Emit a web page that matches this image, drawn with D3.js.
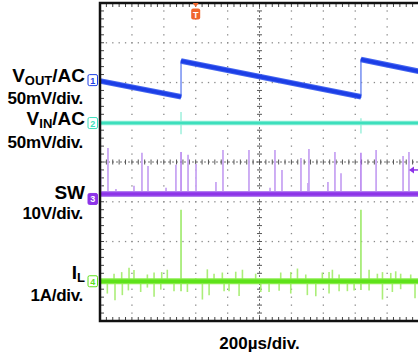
<!DOCTYPE html>
<html>
<head>
<meta charset="utf-8">
<script src="https://cdn.jsdelivr.net/npm/d3@7"></script>
<style>
  html, body { margin: 0; padding: 0; background: #fff; }
  svg { display: block; }
  text { font-family: "Liberation Sans", Arial, sans-serif; font-weight: bold; }
</style>
</head>
<body>
<svg id="scope" width="418" height="360"></svg>
<script>
// ---- time base: 10 divisions of 200 µs, 8 vertical divisions ----
const timeDivs = d3.range(0, 2001, 200);          // µs
const vertDivs = d3.range(-4, 5, 1);              // divisions
const timeLabel = "200µs/div.";

// ---- CH1: Vout (AC coupled), mV ; sawtooth vertices [t µs, mV] ----
const voutPoints = [[0, -1], [508, -21], [508, 24], [1636, -21], [1636, 26], [2000, 11]];

// ---- CH2: Vin (AC coupled), mV ; flat line with glitches [t, up, down] ----
const vinLevel = 0;
const vinGlitches = [[508, 14, -14], [1636, 6, -13]];

// ---- CH3: SW node, V ; baseline and switching spikes [t, peak V] ----
const swLevel = 1.25;
const swSpikes = [
  [4, 7.3], [50, 12.8], [100, 2.5], [213, 3.3], [263, 11.6], [301, 8.3], [414, 2.8],
  [476, 8.6], [508, 11.8], [552, 11.1], [602, 8.8], [727, 4.3], [771, 12.3], [934, 12.3],
  [1066, 2.8], [1097, 12.3], [1141, 7.3], [1260, 10.3], [1304, 4.0], [1310, 12.6],
  [1429, 4.3], [1473, 11.8], [1511, 6.5], [1636, 11.6], [1731, 12.3], [1900, 10.8], [1937, 11.8]
];
const swMain = [508, 1636];

// ---- CH4: inductor current, A ; ringing spikes [t, A] and main pulses [t, up, down] ----
const ilLevel = 0;
const ilSpikes = [
  [88, 0.19], [136, 0.23], [182, 0.34], [213, 0.28], [297, 0.17], [339, 0.22], [387, 0.23],
  [422, 0.29], [600, 0.08], [673, 0.3], [715, 0.19], [767, 0.22], [851, 0.24], [893, 0.29],
  [976, 0.19], [1133, 0.22], [1196, 0.23], [1238, 0.32], [1290, 0.17], [1394, 0.22],
  [1436, 0.23], [1457, 0.29], [1499, 0.17], [1687, 0.29], [1739, 0.19], [1771, 0.23],
  [1823, 0.21], [1854, 0.25], [1885, 0.19], [1948, 0.17],
  [46, -0.31], [94, -0.48], [140, -0.35], [178, -0.23], [255, -0.27], [297, -0.16],
  [339, -0.39], [381, -0.21], [464, -0.25], [548, -0.27], [642, -0.46], [684, -0.35],
  [778, -0.25], [809, -0.25], [872, -0.37], [1008, -0.27], [1060, -0.27], [1123, -0.24],
  [1196, -0.31], [1300, -0.35], [1353, -0.38], [1436, -0.31], [1499, -0.25], [1551, -0.25],
  [1593, -0.23], [1687, -0.23], [1771, -0.46], [1833, -0.27], [1885, -0.2], [1975, -0.43]
];
const ilPulses = [[508, 1.8, -0.25], [1636, 1.8, -0.22]];

// ---- trigger ----
const triggerTime = 600;     // µs
const triggerLevel = 7.3;    // V on CH3

// ---- channel settings ----
const channels = {
  vout: { id: "1", offset: 2.06, perDiv: 50, color: "#1c3ee6", filled: false,
          name: ["V", "OUT", "/AC"], scale: "50mV/div." },
  vin:  { id: "2", offset: 0.98, perDiv: 50, color: "#3ddfbd", filled: false,
          name: ["V", "IN", "/AC"], scale: "50mV/div." },
  sw:   { id: "3", offset: -0.93, perDiv: 10, color: "#8d34e8", filled: true,
          name: ["SW"], scale: "10V/div." },
  il:   { id: "4", offset: -3.0, perDiv: 1, color: "#5ee21a", filled: false,
          name: ["I", "L"], scale: "1A/div." }
};

const svg = d3.select("#scope");
const x = d3.scaleLinear().domain([0, 2000]).range([100, 419]);
const y = d3.scaleLinear().domain([-4, 4]).range([321, 3]);
const yc = (c, v) => y(c.offset + v / c.perDiv);

const minorT = d3.range(0, 2001, 40);
const minorD = d3.range(-20, 21).map(k => k / 5);

svg.append("defs").append("clipPath").attr("id", "plot")
  .append("rect").attr("x", x(0)).attr("y", y(4)).attr("width", x(2000) - x(0)).attr("height", y(-4) - y(4));

// ---- graticule ----
const grid = svg.append("g").attr("class", "graticule");
const innerT = timeDivs.filter(t => t > 0 && t < 2000 && t !== 1000);
const innerD = vertDivs.filter(d => d > -4 && d < 4 && d !== 0);

grid.selectAll(".vdot")
  .data(innerT.flatMap(t => minorD.map(d => [t, d])))
  .join("rect").attr("class", "vdot")
  .attr("x", d => x(d[0]) - 0.6).attr("y", d => y(d[1]) - 0.6)
  .attr("width", 1.3).attr("height", 1.3).attr("fill", "#8a8a8a");

grid.selectAll(".hdot")
  .data(innerD.flatMap(d => minorT.map(t => [t, d])))
  .join("rect").attr("class", "hdot")
  .attr("x", d => x(d[0]) - 0.6).attr("y", d => y(d[1]) - 0.6)
  .attr("width", 1.3).attr("height", 1.3).attr("fill", "#8a8a8a");

// centre crosshair
grid.append("line")
  .attr("x1", x(0)).attr("x2", x(2000)).attr("y1", y(0)).attr("y2", y(0))
  .attr("stroke", "#777").attr("stroke-width", 1).attr("stroke-dasharray", "2,2");
grid.append("line")
  .attr("x1", x(1000)).attr("x2", x(1000)).attr("y1", y(4)).attr("y2", y(-4))
  .attr("stroke", "#777").attr("stroke-width", 1).attr("stroke-dasharray", "2,2");
grid.selectAll(".ctx").data(minorT).join("line").attr("class", "ctx")
  .attr("x1", d => x(d)).attr("x2", d => x(d))
  .attr("y1", y(0) - 2.5).attr("y2", y(0) + 2.5)
  .attr("stroke", "#555").attr("stroke-width", 1);
grid.selectAll(".cty").data(minorD).join("line").attr("class", "cty")
  .attr("x1", x(1000) - 2.5).attr("x2", x(1000) + 2.5)
  .attr("y1", d => y(d)).attr("y2", d => y(d))
  .attr("stroke", "#555").attr("stroke-width", 1);

// edge ticks
grid.selectAll(".ltk").data(minorD).join("line").attr("class", "ltk")
  .attr("x1", x(0)).attr("x2", x(0) + 4).attr("y1", d => y(d)).attr("y2", d => y(d))
  .attr("stroke", "#444");
grid.selectAll(".ttk").data(minorT).join("line").attr("class", "ttk")
  .attr("x1", d => x(d)).attr("x2", d => x(d)).attr("y1", y(4)).attr("y2", y(4) + 4)
  .attr("stroke", "#444");
grid.selectAll(".btk").data(minorT).join("line").attr("class", "btk")
  .attr("x1", d => x(d)).attr("x2", d => x(d)).attr("y1", y(-4)).attr("y2", y(-4) - 4)
  .attr("stroke", "#444");

// ---- traces ----
const traces = svg.append("g").attr("clip-path", "url(#plot)");
const line = d3.line();

// CH2 Vin
const vin = channels.vin;
traces.selectAll(".ving").data(vinGlitches).join("line").attr("class", "ving")
  .attr("x1", d => x(d[0])).attr("x2", d => x(d[0]))
  .attr("y1", d => yc(vin, d[1])).attr("y2", d => yc(vin, d[2]))
  .attr("stroke", "#9ef0dc").attr("stroke-width", 1.5);
traces.append("line")
  .attr("x1", x(0)).attr("x2", x(2000)).attr("y1", yc(vin, vinLevel)).attr("y2", yc(vin, vinLevel))
  .attr("stroke", "#8deed6").attr("stroke-width", 4.5);
traces.append("line")
  .attr("x1", x(0)).attr("x2", x(2000)).attr("y1", yc(vin, vinLevel)).attr("y2", yc(vin, vinLevel))
  .attr("stroke", vin.color).attr("stroke-width", 2.5);

// CH3 SW
const sw = channels.sw;
traces.selectAll(".sws").data(swSpikes).join("line").attr("class", "sws")
  .attr("x1", d => x(d[0])).attr("x2", d => x(d[0]))
  .attr("y1", yc(sw, swLevel - 0.5)).attr("y2", d => yc(sw, d[1]))
  .attr("stroke", d => swMain.includes(d[0]) ? "#a666ec" : "#c9a6f3")
  .attr("stroke-width", d => swMain.includes(d[0]) ? 1.3 : 1.8);
traces.append("line")
  .attr("x1", x(0)).attr("x2", x(2000)).attr("y1", yc(sw, swLevel)).attr("y2", yc(sw, swLevel))
  .attr("stroke", "#b07ef0").attr("stroke-width", 6);
traces.append("line")
  .attr("x1", x(0)).attr("x2", x(2000)).attr("y1", yc(sw, swLevel)).attr("y2", yc(sw, swLevel))
  .attr("stroke", sw.color).attr("stroke-width", 3.5);

// CH4 IL
const il = channels.il;
traces.selectAll(".ils").data(ilSpikes).join("line").attr("class", "ils")
  .attr("x1", d => x(d[0])).attr("x2", d => x(d[0]))
  .attr("y1", yc(il, ilLevel)).attr("y2", d => yc(il, d[1]))
  .attr("stroke", "#abee78").attr("stroke-width", 1.6);
traces.selectAll(".ilp").data(ilPulses).join("line").attr("class", "ilp")
  .attr("x1", d => x(d[0])).attr("x2", d => x(d[0]))
  .attr("y1", d => yc(il, d[1])).attr("y2", d => yc(il, d[2]))
  .attr("stroke", "#9ce968").attr("stroke-width", 1.6);
traces.append("line")
  .attr("x1", x(0)).attr("x2", x(2000)).attr("y1", yc(il, ilLevel)).attr("y2", yc(il, ilLevel))
  .attr("stroke", "#8aec4c").attr("stroke-width", 6);
traces.append("line")
  .attr("x1", x(0)).attr("x2", x(2000)).attr("y1", yc(il, ilLevel)).attr("y2", yc(il, ilLevel))
  .attr("stroke", il.color).attr("stroke-width", 3.5);

// CH1 Vout: thin steps, thick ramps
const vout = channels.vout;
const voutXY = voutPoints.map(p => [x(p[0]), yc(vout, p[1])]);
traces.append("path").attr("d", line(voutXY))
  .attr("fill", "none").attr("stroke", "#6b86f0").attr("stroke-width", 1.4);
const ramps = d3.pairs(voutXY).filter(([a, b]) => b[0] > a[0]);
traces.selectAll(".ramp").data(ramps).join("path").attr("class", "ramp")
  .attr("d", d => line(d)).attr("fill", "none")
  .attr("stroke", "#4465f0").attr("stroke-width", 5.5);
traces.selectAll(".rampc").data(ramps).join("path").attr("class", "rampc")
  .attr("d", d => line(d)).attr("fill", "none")
  .attr("stroke", vout.color).attr("stroke-width", 3.5);

// ---- frame ----
svg.append("path")
  .attr("d", `M${x(2000)},${y(4)}H${x(0)}V${y(-4)}H${x(2000)}`)
  .attr("fill", "none").attr("stroke", "#111").attr("stroke-width", 2.5);

// ---- trigger markers ----
const trig = svg.append("g");
const tx = x(triggerTime);
trig.append("path").attr("d", `M${tx - 3},3 L${tx + 3},3 L${tx},7 Z`).attr("fill", "#f0652a");
trig.append("rect").attr("x", tx - 4.5).attr("y", 8.5).attr("width", 9).attr("height", 11)
  .attr("rx", 2).attr("fill", "#f0652a");
trig.append("text").attr("x", tx).attr("y", 17.5).attr("text-anchor", "middle")
  .attr("font-size", 9).attr("fill", "#fff").text("T");

const ty = yc(sw, triggerLevel);
trig.append("path").attr("d", `M${x(2000) - 10},${ty} L${x(2000) - 5},${ty - 3.5} L${x(2000) - 5},${ty + 3.5} Z`)
  .attr("fill", sw.color);
trig.append("line").attr("x1", x(2000) - 6).attr("x2", x(2000)).attr("y1", ty).attr("y2", ty)
  .attr("stroke", sw.color).attr("stroke-width", 1.5);

// ---- channel ground markers and labels ----
const chList = Object.values(channels);
const markers = svg.append("g").selectAll("g").data(chList).join("g")
  .attr("transform", d => `translate(88,${y(d.offset)})`);
markers.append("rect").attr("x", 0).attr("y", -5.5).attr("width", 9.5).attr("height", 11).attr("rx", 1.5)
  .attr("fill", d => d.filled ? d.color : "#fff")
  .attr("stroke", d => d.color).attr("stroke-width", 1);
markers.append("text").attr("x", 4.75).attr("y", 3.5).attr("text-anchor", "middle")
  .attr("font-size", 9).attr("font-weight", "normal")
  .attr("fill", d => d.filled ? "#fff" : d.color).text(d => d.id);

const labelY = { vout: [82, 104], vin: [125, 148], sw: [199, 219], il: [279, 301] };
Object.entries(channels).forEach(([key, c]) => {
  const t = svg.append("text").attr("x", 85).attr("y", labelY[key][0])
    .attr("text-anchor", "end").attr("font-size", 19).attr("fill", "#000");
  t.append("tspan").text(c.name[0]);
  if (c.name.length > 1) {
    t.append("tspan").attr("font-size", 13).attr("dy", 3).text(c.name[1]);
    if (c.name[2]) t.append("tspan").attr("dy", -3).text(c.name[2]);
  }
  svg.append("text").attr("x", 83).attr("y", labelY[key][1])
    .attr("text-anchor", "end").attr("font-size", 17).attr("letter-spacing", -0.3)
    .attr("fill", "#000").text(c.scale);
});

svg.append("text").attr("x", x(1000)).attr("y", 349).attr("text-anchor", "middle")
  .attr("font-size", 17).attr("fill", "#000").text(timeLabel);
</script>
</body>
</html>
